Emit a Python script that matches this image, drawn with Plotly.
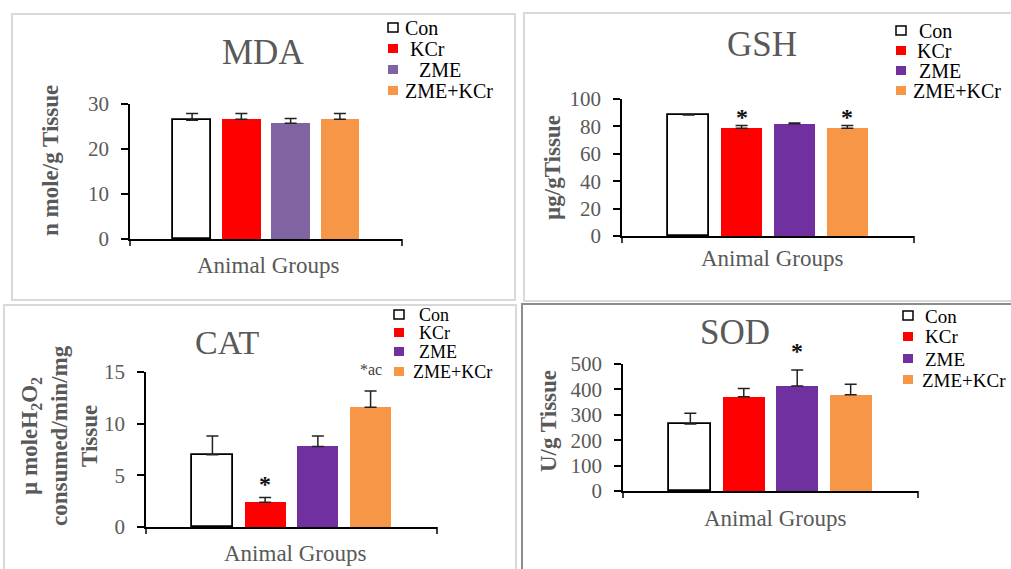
import plotly.graph_objects as go

W, H = 1011, 569

# ---------------- data ----------------
groups = ["Con", "KCr", "ZME", "ZME+KCr"]

mda_mean = [26.4, 26.6, 25.7, 26.6]
mda_err = [1.5, 1.3, 1.1, 1.3]

gsh_mean = [88.3, 78.6, 82.0, 78.6]
gsh_err = [0.0, 2.0, 0.5, 2.0]
gsh_marks = ["", "*", "", "*"]

cat_mean = [7.0, 2.4, 7.8, 11.6]
cat_err = [1.8, 0.45, 1.0, 1.55]
cat_marks = ["", "*", "", "*ac"]

sod_mean = [264, 371, 413, 379]
sod_err = [42, 33, 63, 41]
sod_marks = ["", "", "*", ""]

# ---------------- styling ----------------
FONT = "Liberation Serif"
GRAY = "#595959"
RED = "#FF0000"
ORANGE = "#F79646"
PURPLE_LIGHT = "#8064A2"
PURPLE = "#7030A0"


def px(x):
    return x / W


def py(y):
    return 1 - y / H


panels = [
    dict(title="MDA", mean=mda_mean, err=mda_err, marks=None, mark_shift=None,
         colors=["#FFFFFF", RED, PURPLE_LIGHT, ORANGE],
         xd=(130, 402), yd=(104, 239), yr=[0, 30], dtick=10,
         tpos=(263, 52), tsize=35, xl=(268, 265), yl=(50, 161),
         ytitle="<b>n mole/g Tissue</b>",
         leg_sq=393, leg_tx=[403, 408, 417, 403], leg_y=[28, 49, 70, 91], leg_fs=20,
         border=(12, 14, 515, 300), bcol="#D9D9D9"),
    dict(title="GSH", mean=gsh_mean, err=gsh_err, marks=gsh_marks,
         mark_shift=[0, 9, 0, 9],
         colors=["#FFFFFF", RED, PURPLE, ORANGE],
         xd=(622, 914), yd=(99, 236), yr=[0, 100], dtick=20,
         tpos=(762, 45), tsize=35, xl=(772, 259), yl=(552, 168),
         ytitle="<b>µg/gTissue</b>",
         leg_sq=901, leg_tx=[917, 915, 917, 911], leg_y=[31, 51, 71, 91], leg_fs=20,
         border=(524, 13, 1016, 301), bcol="#D9D9D9"),
    dict(title="CAT", mean=cat_mean, err=cat_err, marks=cat_marks,
         mark_shift=[0, 14, 0, 22],
         colors=["#FFFFFF", RED, PURPLE, ORANGE],
         xd=(146, 437), yd=(372, 527), yr=[0, 15], dtick=5,
         tpos=(227, 342), tsize=34, xl=(295, 553), yl=(59, 436),
         ytitle="<b>µ moleH<sub>2</sub>O<sub>2</sub><br>consumed/min/mg<br>Tissue</b>",
         leg_sq=399, leg_tx=[417, 417, 417, 411], leg_y=[315, 333, 352, 372], leg_fs=18,
         border=(4, 305, 516, 575), bcol="#D9D9D9"),
    dict(title="SOD", mean=sod_mean, err=sod_err, marks=sod_marks,
         mark_shift=[0, 0, 19, 0],
         colors=["#FFFFFF", RED, PURPLE, ORANGE],
         xd=(623, 918), yd=(364, 491), yr=[0, 500], dtick=100,
         tpos=(735, 332), tsize=35, xl=(775, 518), yl=(548, 421),
         ytitle="<b>U/g Tissue</b>",
         leg_sq=908, leg_tx=[923, 923, 923, 920], leg_y=[316, 337, 359, 380], leg_fs=19,
         border=(522, 304, 1016, 575), bcol="#8C8C8C"),
]

fig = go.Figure()
annotations = []
shapes = []
layout_axes = {}

for i, p in enumerate(panels):
    n = "" if i == 0 else str(i + 1)
    xa, ya = "x" + n, "y" + n

    # panel border
    bx0, by0, bx1, by1 = p["border"]
    shapes.append(dict(type="rect", xref="paper", yref="paper",
                       x0=px(bx0), x1=px(bx1), y0=py(by1), y1=py(by0),
                       line=dict(color=p["bcol"], width=2), fillcolor="rgba(0,0,0,0)",
                       layer="below"))

    line_w = [1.8 if c == "#FFFFFF" else 0 for c in p["colors"]]
    fig.add_trace(go.Bar(
        x=groups, y=p["mean"], xaxis=xa, yaxis=ya, width=0.78,
        marker=dict(color=p["colors"], line=dict(color="#000000", width=line_w)),
        error_y=dict(type="data", array=p["err"], arrayminus=[0] * len(groups),
                     symmetric=False, color="#222222", thickness=1.5, width=6),
        showlegend=False, hoverinfo="skip",
    ))

    # significance marks, anchored at the top of each error bar
    if p["marks"]:
        for g, m, mv, ev, sh in zip(groups, p["marks"], p["mean"], p["err"], p["mark_shift"]):
            if not m:
                continue
            if len(m) > 1:
                tf = dict(family=FONT, size=16, color="#404040")
                txt = m
            else:
                tf = dict(family=FONT, size=24, color="#111111")
                txt = "<b>" + m + "</b>"
            annotations.append(dict(text=txt, x=g, y=mv + ev, xref=xa, yref=ya,
                                    showarrow=False, yshift=sh,
                                    xanchor="center", yanchor="middle", font=tf))

    x0, x1 = p["xd"]
    y0, y1 = p["yd"]
    layout_axes["xaxis" + n] = dict(
        domain=[px(x0), px(x1)], anchor=ya, type="category",
        range=[-1.26, 4.26], showticklabels=False, ticks="",
        showline=True, linecolor="#000000", linewidth=1.5,
        showgrid=False, zeroline=False, fixedrange=True, automargin=False)
    layout_axes["yaxis" + n] = dict(
        domain=[py(y1), py(y0)], anchor=xa, range=p["yr"], dtick=p["dtick"],
        showline=True, linecolor="#000000", linewidth=1.5,
        ticks="outside", ticklen=7, tickwidth=1.5, tickcolor="#000000",
        ticklabelstandoff=8,
        tickfont=dict(family=FONT, size=21, color=GRAY),
        showgrid=False, zeroline=False, fixedrange=True, automargin=False)

    # small end ticks on category axis
    hdom = y1 - y0
    for xe in (0, 1):
        shapes.append(dict(type="line", xref=xa + " domain", yref=ya + " domain",
                           x0=xe, x1=xe, y0=0, y1=-7 / hdom,
                           line=dict(color="#000000", width=1.5)))

    # title, axis titles
    annotations.append(dict(text=p["title"], x=px(p["tpos"][0]), y=py(p["tpos"][1]),
                            xref="paper", yref="paper", showarrow=False,
                            xanchor="center", yanchor="middle",
                            font=dict(family=FONT, size=p["tsize"], color=GRAY)))
    annotations.append(dict(text="Animal Groups", x=px(p["xl"][0]), y=py(p["xl"][1]),
                            xref="paper", yref="paper", showarrow=False,
                            xanchor="center", yanchor="middle",
                            font=dict(family=FONT, size=23, color=GRAY)))
    annotations.append(dict(text=p["ytitle"], x=px(p["yl"][0]), y=py(p["yl"][1]),
                            xref="paper", yref="paper", showarrow=False, textangle=-90,
                            xanchor="center", yanchor="middle",
                            font=dict(family=FONT, size=23, color=GRAY)))

    # legend
    for g, c, lx, ly in zip(groups, p["colors"], p["leg_tx"], p["leg_y"]):
        sq = 5
        shapes.append(dict(type="rect", xref="paper", yref="paper",
                           x0=px(p["leg_sq"] - sq), x1=px(p["leg_sq"] + sq),
                           y0=py(ly + sq - 1), y1=py(ly - sq),
                           fillcolor=c,
                           line=dict(color="#000000" if c == "#FFFFFF" else c,
                                     width=1.5 if c == "#FFFFFF" else 0)))
        annotations.append(dict(text=g, x=px(lx), y=py(ly),
                                xref="paper", yref="paper", showarrow=False,
                                xanchor="left", yanchor="middle",
                                font=dict(family=FONT, size=p["leg_fs"], color="#000000")))

fig.update_layout(
    width=W, height=H, margin=dict(l=0, r=0, t=0, b=0, pad=0, autoexpand=False),
    paper_bgcolor="#FFFFFF", plot_bgcolor="rgba(0,0,0,0)",
    showlegend=False, bargap=0,
    annotations=annotations, shapes=shapes,
    font=dict(family=FONT, color=GRAY),
    **layout_axes,
)

fig.write_html("out.html", config={"displayModeBar": False},
               post_script="document.body.style.margin='0';")
